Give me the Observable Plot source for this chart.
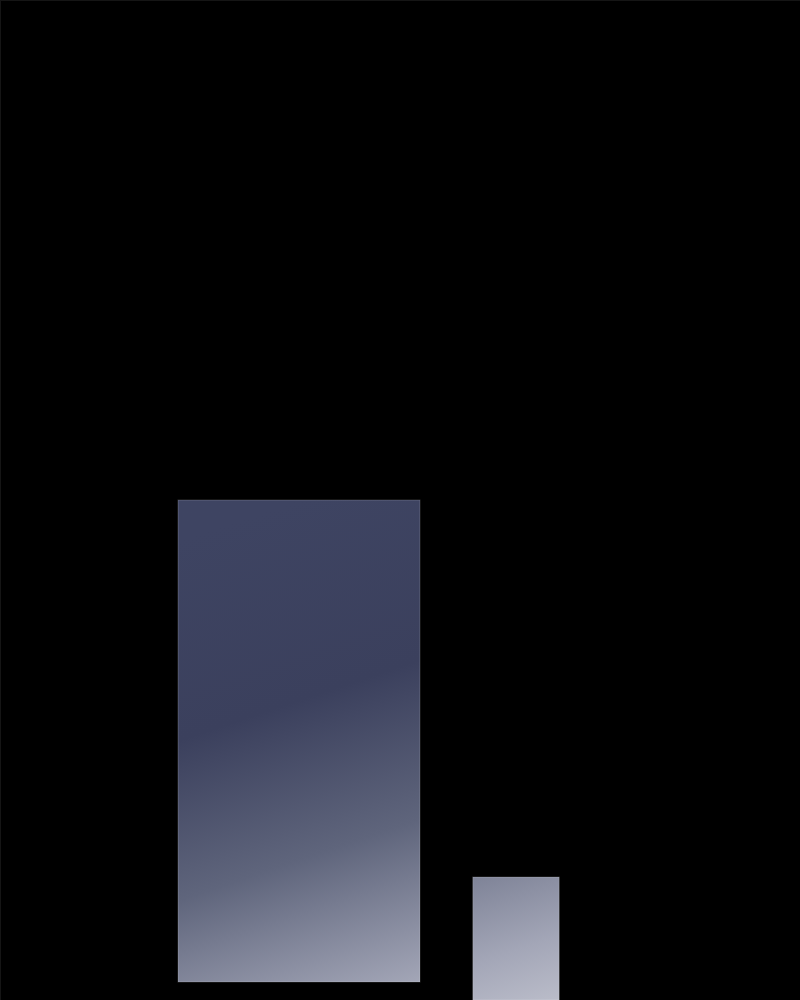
<!DOCTYPE html>
<html>
<head>
<meta charset="utf-8">
<script src="https://cdn.jsdelivr.net/npm/d3@7"></script>
<script src="https://cdn.jsdelivr.net/npm/@observablehq/plot@0.6"></script>
<style>
  html, body { margin: 0; padding: 0; background: #000; }
  #chart svg { display: block; }
</style>
</head>
<body>
<div id="chart"></div>
<script>
// Data
const barNames = ["A", "B"];
const barStart = [22.25, 59.1];
const barEnd   = [52.5, 69.9];
const barLow   = [1.8, 0];
const barHigh  = [50, 12.3];

const data = barNames.map((name, i) => ({
  name, x1: barStart[i], x2: barEnd[i], y1: barLow[i], y2: barHigh[i]
}));

function gradientDefs() {
  const ns = "http://www.w3.org/2000/svg";
  const defs = document.createElementNS(ns, "defs");
  const g = document.createElementNS(ns, "linearGradient");
  g.setAttribute("id", "barGrad");
  g.setAttribute("gradientUnits", "userSpaceOnUse");
  g.setAttribute("x1", "0"); g.setAttribute("y1", "0");
  g.setAttribute("x2", "360"); g.setAttribute("y2", "1080");
  const stops = [
    [0, "#3e4562"], [0.5, "#3e4462"], [0.667, "#3b405d"],
    [0.8, "#5f657c"], [0.935, "#a3a6b7"], [1, "#bfc1cd"]
  ];
  for (const [o, c] of stops) {
    const s = document.createElementNS(ns, "stop");
    s.setAttribute("offset", o);
    s.setAttribute("stop-color", c);
    g.appendChild(s);
  }
  defs.appendChild(g);
  return defs;
}

const chart = Plot.plot({
  width: 800,
  height: 1000,
  margin: 0,
  style: { background: "#000" },
  x: { domain: [0, 100], axis: null },
  y: { domain: [0, 100], axis: null },
  marks: [
    gradientDefs,
    Plot.frame({ stroke: "#151515" }),
    Plot.rect(data, {
      x1: "x1", x2: "x2", y1: "y1", y2: "y2",
      fill: "url(#barGrad)",
      stroke: "#ffffff", strokeOpacity: 0.18, strokeWidth: 1
    })
  ]
});
document.getElementById("chart").appendChild(chart);
</script>
</body>
</html>
